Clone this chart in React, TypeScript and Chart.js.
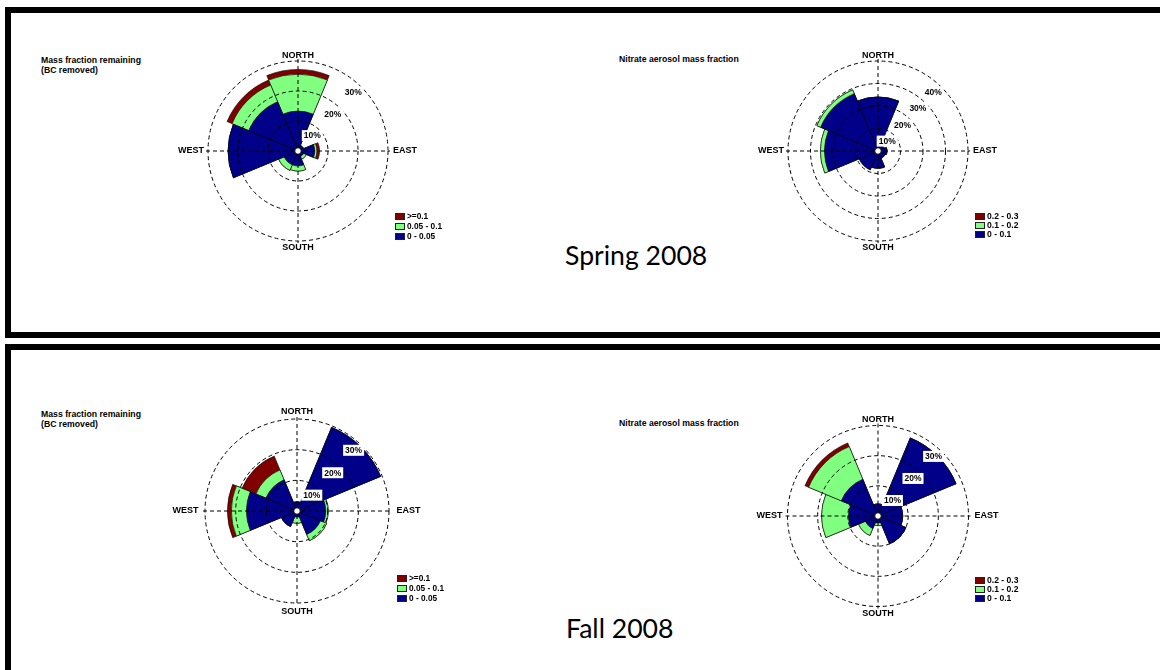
import React, { useEffect, useRef } from 'react';
import { Chart, registerables } from 'chart.js';

Chart.register(...registerables);

// Wind directions, clockwise from north (8 sectors of 45°)
const directions = ['N', 'NE', 'E', 'SE', 'S', 'SW', 'W', 'NW'];

// Spring 2008 – Mass fraction remaining (BC removed), % of time per bin
const springMassLow = [13.3, 2.0, 5.6, 2.0, 5.0, 5.0, 23.3, 17.8]; // 0 - 0.05
const springMassMid = [12.3, 0, 0.7, 1.0, 1.7, 2.0, 0, 6.0]; // 0.05 - 0.1
const springMassHigh = [1.6, 0, 0.9, 0, 0, 0, 0, 1.8]; // >=0.1
const springMassTicks = [10, 20, 30];

// Spring 2008 – Nitrate aerosol mass fraction
const springNitrateLow = [24.0, 3.0, 4.0, 3.5, 7.7, 9.0, 23.8, 27.6]; // 0 - 0.1
const springNitrateMid = [0, 0, 0, 0, 0, 0, 1.8, 1.8]; // 0.1 - 0.2
const springNitrateHigh = [0, 0, 0, 0, 0, 0, 0, 0]; // 0.2 - 0.3
const springNitrateTicks = [10, 20, 30, 40];

// Fall 2008 – Mass fraction remaining (BC removed)
const fallMassLow = [3.0, 29.5, 9.4, 8.3, 2.0, 5.5, 16.5, 11.0];
const fallMassMid = [0, 0, 0.8, 2.2, 2.0, 0, 4.9, 3.5];
const fallMassHigh = [0, 0, 0, 0, 0, 0, 1.3, 4.9];
const fallMassTicks = [10, 20, 30];

// Fall 2008 – Nitrate aerosol mass fraction
const fallNitrateLow = [4.0, 28.0, 8.2, 10.0, 2.3, 4.5, 9.8, 13.2];
const fallNitrateMid = [0, 0, 0, 0, 0.9, 2.5, 8.9, 11.7];
const fallNitrateHigh = [0, 0, 0, 0, 0, 0, 0, 1.3];
const fallNitrateTicks = [10, 20, 30];

const massBins = ['>=0.1', '0.05 - 0.1', '0 - 0.05'];
const nitrateBins = ['0.2 - 0.3', '0.1 - 0.2', '0 - 0.1'];

const BLUE = '#000088';
const GREEN = '#80ff80';
const RED = '#800000';
const FONT = '"Liberation Sans", Arial, sans-serif';
const CANVAS = 260;

const roseDecor = {
  id: 'roseDecor',
  afterDatasetsDraw(chart: any, _args: any, opts: any) {
    const s = chart.scales.r;
    const ctx = chart.ctx as CanvasRenderingContext2D;
    const cx = s.xCenter;
    const cy = s.yCenter;
    const ticks: number[] = opts.ticks;
    const outer = s.getDistanceFromCenterForValue(ticks[ticks.length - 1]);
    ctx.save();
    ctx.strokeStyle = '#000';
    ctx.lineWidth = 1;
    ctx.setLineDash([4, 3]);
    ticks.forEach((t) => {
      const r = s.getDistanceFromCenterForValue(t);
      ctx.beginPath();
      ctx.arc(cx, cy, r, 0, Math.PI * 2);
      ctx.stroke();
    });
    const L = outer + 2;
    ctx.beginPath();
    ctx.moveTo(cx, cy - L);
    ctx.lineTo(cx, cy + L);
    ctx.moveTo(cx - L, cy);
    ctx.lineTo(cx + L, cy);
    ctx.stroke();
    ctx.setLineDash([]);

    // percentage labels along the north-east diagonal
    ctx.font = `bold 8.5px ${FONT}`;
    ctx.textAlign = 'center';
    ctx.textBaseline = 'middle';
    const a = (43 * Math.PI) / 180;
    ticks.forEach((t) => {
      const r = s.getDistanceFromCenterForValue(t) - 9;
      const x = cx + r * Math.sin(a);
      const y = cy - r * Math.cos(a);
      const label = `${t}%`;
      const w = ctx.measureText(label).width + 4;
      ctx.fillStyle = '#fff';
      ctx.fillRect(x - w / 2, y - 5.5, w, 11);
      ctx.fillStyle = '#000';
      ctx.fillText(label, x, y + 0.5);
    });

    // centre hole
    ctx.beginPath();
    ctx.arc(cx, cy, 3.3, 0, Math.PI * 2);
    ctx.fillStyle = '#fff';
    ctx.fill();
    ctx.strokeStyle = '#000';
    ctx.lineWidth = 1;
    ctx.stroke();

    // compass labels
    const g = outer + opts.gap;
    ctx.font = `bold 9px ${FONT}`;
    ctx.fillStyle = '#000';
    ctx.textAlign = 'center';
    ctx.fillText('NORTH', cx, cy - g);
    ctx.fillText('SOUTH', cx, cy + g + 1.5);
    ctx.textAlign = 'right';
    ctx.fillText('WEST', cx - g + 1, cy);
    ctx.textAlign = 'left';
    ctx.fillText('EAST', cx + g, cy);
    ctx.restore();
  },
};

type RoseCfg = {
  low: number[];
  mid: number[];
  high: number[];
  ticks: number[];
  outerPx: number;
  gap: number;
  cx: number;
  cy: number;
};

function Rose({ cfg }: { cfg: RoseCfg }) {
  const ref = useRef<HTMLCanvasElement>(null);
  useEffect(() => {
    const c1 = cfg.low.slice();
    const c2 = c1.map((v, i) => v + cfg.mid[i]);
    const c3 = c2.map((v, i) => v + cfg.high[i]);
    const top = cfg.ticks[cfg.ticks.length - 1];
    const ds = (data: number[], color: string) => ({
      data,
      backgroundColor: color,
      borderColor: '#000',
      borderWidth: 0.6,
    });
    const chart = new Chart(ref.current as HTMLCanvasElement, {
      type: 'polarArea',
      data: {
        labels: directions,
        datasets: [ds(c1, BLUE), ds(c2, GREEN), ds(c3, RED)],
      },
      options: {
        responsive: false,
        animation: false,
        events: [],
        layout: { padding: 0 },
        plugins: {
          legend: { display: false },
          tooltip: { enabled: false },
          roseDecor: { ticks: cfg.ticks, gap: cfg.gap },
        } as any,
        scales: {
          r: {
            min: 0,
            max: (top * (CANVAS / 2)) / cfg.outerPx,
            startAngle: -22.5,
            ticks: { display: false },
            grid: { display: false },
            angleLines: { display: false },
            pointLabels: { display: false },
          },
        },
      },
      plugins: [roseDecor as any],
    });
    return () => chart.destroy();
  }, [cfg]);
  return (
    <canvas
      ref={ref}
      width={CANVAS}
      height={CANVAS}
      style={{
        position: 'absolute',
        left: cfg.cx - CANVAS / 2,
        top: cfg.cy - CANVAS / 2,
        width: CANVAS,
        height: CANVAS,
      }}
    />
  );
}

const roses: RoseCfg[] = [
  { low: springMassLow, mid: springMassMid, high: springMassHigh, ticks: springMassTicks, outerPx: 90, gap: 5, cx: 298, cy: 151 },
  { low: springNitrateLow, mid: springNitrateMid, high: springNitrateHigh, ticks: springNitrateTicks, outerPx: 90, gap: 5, cx: 878, cy: 151 },
  { low: fallMassLow, mid: fallMassMid, high: fallMassHigh, ticks: fallMassTicks, outerPx: 92, gap: 7.5, cx: 297, cy: 511 },
  { low: fallNitrateLow, mid: fallNitrateMid, high: fallNitrateHigh, ticks: fallNitrateTicks, outerPx: 90.5, gap: 6, cx: 878, cy: 516 },
];

function Legend({ x, y, labels, step, size }: { x: number; y: number; labels: string[]; step: number; size: number }) {
  const colors = [RED, GREEN, BLUE];
  return (
    <div style={{ position: 'absolute', left: x, top: y, font: `bold ${size}px ${FONT}`, color: '#000' }}>
      {labels.map((l, i) => (
        <div key={l} style={{ position: 'absolute', left: 0, top: i * step, height: step, lineHeight: `${step}px`, whiteSpace: 'nowrap', display: 'flex', alignItems: 'center' }}>
          <span style={{ display: 'inline-block', width: 8, height: 5, background: colors[i], border: '0.5px solid #222', marginRight: 2 }} />
          <span>{l}</span>
        </div>
      ))}
    </div>
  );
}

const titleStyle: React.CSSProperties = {
  position: 'absolute',
  font: `bold 8.7px ${FONT}`,
  lineHeight: '10px',
  color: '#000',
  whiteSpace: 'nowrap',
};

const seasonStyle: React.CSSProperties = {
  position: 'absolute',
  fontFamily: 'Lato, "Open Sans", sans-serif',
  fontSize: 26.6,
  lineHeight: '27px',
  color: '#000',
  whiteSpace: 'nowrap',
};

export default function App() {
  return (
    <div style={{ position: 'absolute', left: 0, top: 0, width: 1160, height: 670, overflow: 'hidden', background: '#fff' }}>
      <div style={{ position: 'absolute', left: 5, top: 7, width: 1200, height: 331, border: '6px solid #000', boxSizing: 'border-box' }} />
      <div style={{ position: 'absolute', left: 5, top: 344, width: 1200, height: 400, border: '6px solid #000', boxSizing: 'border-box' }} />

      {roses.map((r, i) => (
        <Rose key={i} cfg={r} />
      ))}

      <div style={{ ...titleStyle, left: 41, top: 55 }}>Mass fraction remaining<br />(BC removed)</div>
      <div style={{ ...titleStyle, left: 619, top: 54 }}>Nitrate aerosol mass fraction</div>
      <div style={{ ...titleStyle, left: 41, top: 409 }}>Mass fraction remaining<br />(BC removed)</div>
      <div style={{ ...titleStyle, left: 619, top: 418 }}>Nitrate aerosol mass fraction</div>

      <Legend x={395} y={211} labels={massBins} step={10} size={8.3} />
      <Legend x={975} y={212} labels={nitrateBins} step={9} size={8.6} />
      <Legend x={397} y={573} labels={massBins} step={10} size={8.3} />
      <Legend x={975} y={576} labels={nitrateBins} step={9} size={8.6} />

      <div style={{ ...seasonStyle, left: 565, top: 242 }}>Spring 2008</div>
      <div style={{ ...seasonStyle, left: 566, top: 615 }}>Fall 2008</div>
    </div>
  );
}
